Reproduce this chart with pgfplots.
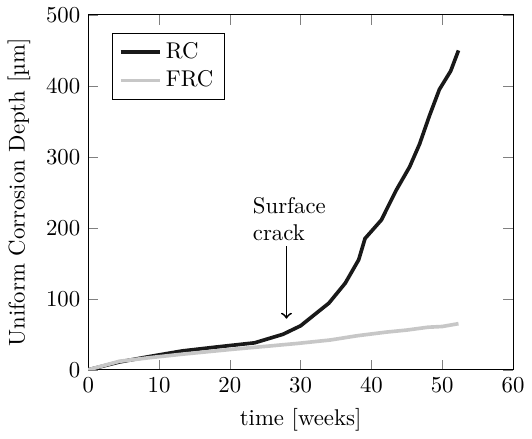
\documentclass[border=0pt]{standalone}
\usepackage{pgfplots}
\pgfplotsset{compat=1.18}
\begin{document}
\begin{tikzpicture}
\begin{axis}[
  scale only axis,
  width=186.5pt, height=155.8pt,
  xmin=0, xmax=60, ymin=0, ymax=500,
  xtick={0,10,20,30,40,50,60},
  ytick={0,100,200,300,400,500},
  xlabel={time [weeks]},
  ylabel={Uniform Corrosion Depth [\textmu m]},
  legend style={at={(0.055,0.95)}, anchor=north west, draw=black, fill=white},
  legend cell align=left,
]
\addplot[black!90, line width=1.6pt] coordinates {
(0,0) (4.4,11) (8.6,18.6) (13.3,26.6) (18,32) (23.5,38) (27.5,50) (30,62) (32,78) (34,94) (36.3,122) (38.2,155) (39.1,185) (41.4,211) (43.5,253) (45.4,286) (46.8,318) (48.2,358) (49.6,395) (51.2,421) (52.3,450)
};
\addlegendentry{RC}
\addplot[black!22, line width=1.6pt] coordinates {
(0,0) (4.4,12) (8.6,17) (13.3,22) (20.5,29) (25,33) (29.4,37) (34.2,42) (38,48) (42,53) (45,56) (48,60) (50,61) (52.3,65)
};
\addlegendentry{FRC}
\draw[->, thick] (axis cs:28,174) -- (axis cs:28,72);
\node[anchor=north west, align=left, inner sep=0pt] at (axis cs:23.2,244) {Surface\\crack};
\end{axis}
\end{tikzpicture}
\end{document}
